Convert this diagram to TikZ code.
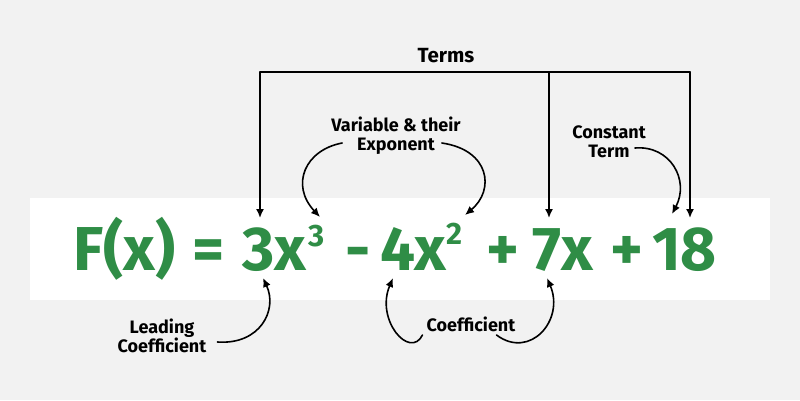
\documentclass[tikz,border=0pt]{standalone}
\usepackage{fontspec}
\setmainfont{Fira Sans}
\usetikzlibrary{arrows.meta}
\definecolor{EqGreen}{HTML}{2F8D46}
\definecolor{BackGray}{HTML}{F2F2F2}
\begin{document}
\begin{tikzpicture}[x=1pt,y=-1pt,line cap=round,line join=round,
  lbl/.style={font=\bfseries\fontsize{18}{19}\selectfont,align=center,inner sep=1pt},
  eqpart/.style={EqGreen,font=\bfseries\fontsize{62}{62}\selectfont,anchor=base west,inner sep=0pt},
  eqsup/.style={EqGreen,font=\bfseries\fontsize{31}{31}\selectfont,anchor=base west,inner sep=0pt},
  link/.style={line width=1.6pt,-{Latex[length=9pt,width=8pt]}}]
  \fill[BackGray] (0,0) rectangle (800,400);
  \fill[white] (30,198) rectangle (770,300);
  % the polynomial, piece by piece
  \node[eqpart] (fx) at (73,270) {F(x)};
  \node[eqpart] (eqs) at (192,270) {=};
  \node[eqpart] (p3x) at (242,270) {3x};
  \node[eqsup] (s3) at (308,246) {3};
  \node[eqpart] (m1) at (345,270) {-};
  \node[eqpart] (p4x) at (380,270) {4x};
  \node[eqsup] (s2) at (446,244) {2};
  \node[eqpart] (pl1) at (486,270) {+};
  \node[eqpart] (p7x) at (532,270) {7x};
  \node[eqpart] (pl2) at (610,270) {+};
  \node[eqpart] (p18) at (652,270) {18};
  % labels
  \node[lbl,font=\bfseries\fontsize{20.5}{21}\selectfont] (terms) at (446,56) {Terms};
  \node[lbl] (var) at (396,136) {Variable \& their\\Exponent};
  \node[lbl] (const) at (609,142) {Constant\\Term};
  \node[lbl] (lead) at (162,336) {Leading\\Coefficient};
  \node[lbl] (coef) at (471,324) {Coefficient};
  \coordinate (barL) at (260,72); \coordinate (barM) at (549,72); \coordinate (barR) at (690,72);
  \coordinate (t3) at (260,218); \coordinate (t7) at (549,218); \coordinate (t18) at (690,218);
  \coordinate (e3) at (320,217); \coordinate (e2) at (465,215); \coordinate (c18) at (672,214);
  \coordinate (k3) at (263,278); \coordinate (k4) at (393,278); \coordinate (k7) at (547,278);
  \draw[line width=1.6pt] (barL) -- (barR);
  \draw[link] (barL) -- (t3); \draw[link] (barM) -- (t7); \draw[link] (barR) -- (t18);
  \draw[link] ([xshift=12pt,yshift=-7pt]var.west) .. controls (305,150) and (290,185) .. (e3);
  \draw[link] ([xshift=-20pt,yshift=-7pt]var.east) .. controls (490,150) and (495,190) .. (e2);
  \draw[link] ([xshift=-12pt,yshift=-6pt]const.east) .. controls (670,145) and (690,180) .. (c18);
  \draw[link] ([xshift=10pt,yshift=-6pt]lead.east) .. controls (260,345) and (278,310) .. (k3);
  \draw[link] ([xshift=-3pt,yshift=-11pt]coef.west) .. controls (410,360) and (375,320) .. (k4);
  \draw[link] ([xshift=-20pt,yshift=-11pt]coef.east) .. controls (530,360) and (565,320) .. (k7);
\end{tikzpicture}
\end{document}
